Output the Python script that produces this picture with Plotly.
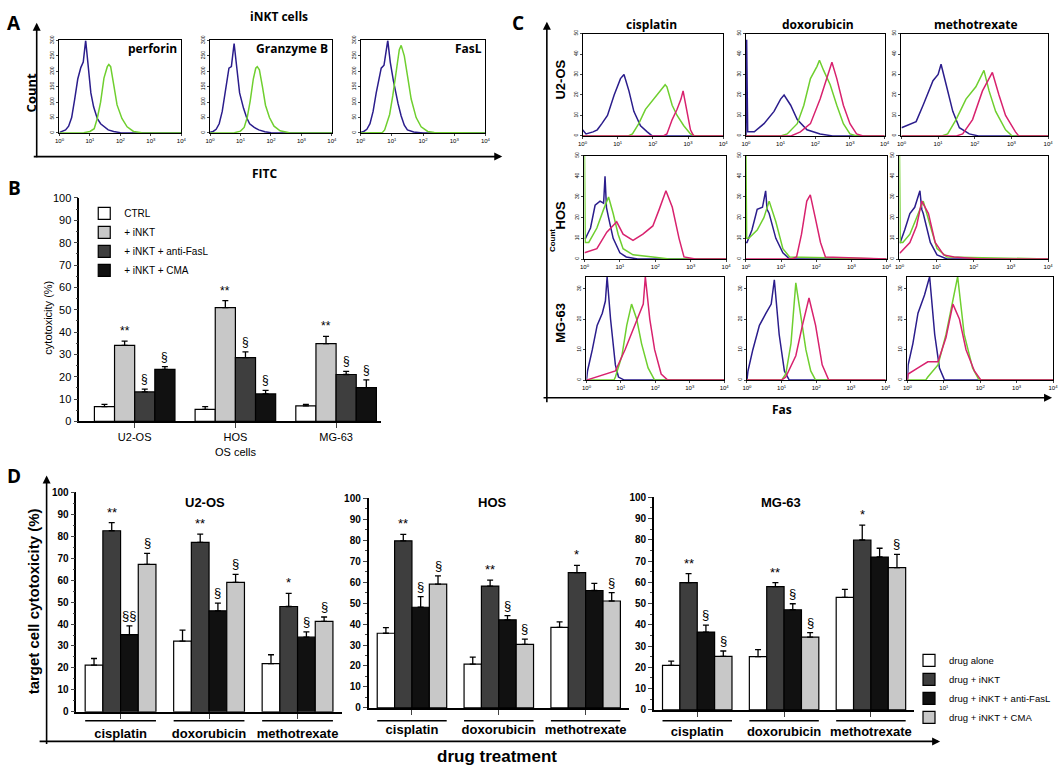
import plotly.graph_objects as go

W, H = 1061, 772

# ---------------- data ----------------
# A: iNKT cells, FITC intensity (log10) vs count. iso = blue control, stain = green
a_labels = ["perforin", "Granzyme B", "FasL"]
perforin_iso = ([0, 0.1, 0.2, 0.3, 0.4, 0.5, 0.6, 0.7, 0.78, 0.86, 0.95, 1.03, 1.12, 1.24, 1.35, 1.46, 1.6, 1.78, 2.0, 4],
                [2, 5, 10, 22, 50, 110, 175, 212, 230, 300, 200, 130, 85, 47, 30, 20, 10, 5, 1, 0])
perforin_stain = ([0, 0.8, 1.0, 1.14, 1.24, 1.35, 1.46, 1.57, 1.62, 1.68, 1.78, 1.89, 2.05, 2.22, 2.43, 2.7, 4],
                  [0, 1, 5, 14, 47, 100, 178, 215, 222, 215, 157, 91, 47, 20, 5, 1, 0])
granzyme_iso = ([0, 0.1, 0.2, 0.3, 0.4, 0.5, 0.62, 0.7, 0.79, 0.88, 0.97, 1.1, 1.2, 1.3, 1.45, 1.6, 1.8, 2.0, 4],
                [2, 5, 12, 30, 70, 140, 210, 215, 290, 210, 130, 80, 50, 30, 18, 10, 4, 1, 0])
granzyme_stain = ([0, 0.8, 1.0, 1.12, 1.22, 1.32, 1.42, 1.5, 1.55, 1.62, 1.72, 1.82, 1.95, 2.1, 2.3, 2.6, 4],
                  [0, 1, 6, 18, 50, 105, 175, 210, 215, 205, 150, 90, 50, 22, 7, 1, 0])
fasl_iso = ([0, 0.1, 0.2, 0.3, 0.4, 0.5, 0.66, 0.75, 0.87, 0.95, 1.05, 1.14, 1.2, 1.3, 1.4, 1.5, 1.7, 2.0, 4],
            [2, 5, 12, 30, 70, 130, 210, 220, 300, 230, 170, 122, 95, 55, 25, 10, 3, 0, 0])
fasl_stain = ([0, 0.7, 0.77, 0.93, 1.03, 1.14, 1.24, 1.3, 1.4, 1.51, 1.62, 1.78, 1.94, 2.15, 2.36, 4],
              [0, 2, 10, 60, 120, 200, 270, 284, 250, 180, 110, 50, 20, 5, 2, 0])

# B: cytotoxicity (%) of OS cells
b_cells = ["U2-OS", "HOS", "MG-63"]
b_names = ["CTRL", "+ iNKT", "+ iNKT + anti-FasL", "+ iNKT + CMA"]
b_ctrl = [6.6, 5.4, 7.0]
b_ctrl_err = [1.0, 1.2, 0.6]
b_inkt = [34.0, 50.9, 34.8]
b_inkt_err = [1.9, 3.2, 3.3]
b_fasl = [13.2, 28.6, 21.0]
b_fasl_err = [1.3, 2.5, 1.4]
b_cma = [23.3, 12.3, 15.1]
b_cma_err = [1.2, 1.6, 3.5]
b_marks = ["", "**", "§", "§"]

# C: Fas expression (log10 intensity vs count); iso = blue, untreated = green, drug = magenta
c_drugs = ["cisplatin", "doxorubicin", "methotrexate"]
c_cells = ["U2-OS", "HOS", "MG-63"]
c_ymax = [50, 50, 34]

u2os_cis_iso = ([0, 0.1, 0.3, 0.42, 0.55, 0.71, 0.9, 1.08, 1.18, 1.32, 1.46, 1.65, 1.84, 1.98, 4],
                [3, 1, 2, 3, 6, 10, 20, 28, 30, 22, 12, 5, 2, 0, 0])
u2os_cis_ctrl = ([0, 1.3, 1.42, 1.6, 1.79, 2.03, 2.22, 2.35, 2.4, 2.55, 2.69, 2.88, 3.07, 3.2, 4],
                 [0, 0, 1, 6, 13, 18, 22, 25, 24, 15, 10, 5, 1, 0, 0])
u2os_cis_drug = ([0, 2.3, 2.4, 2.55, 2.69, 2.8, 2.86, 2.97, 3.07, 3.16, 4],
                 [0, 0, 1, 8, 13, 18, 22, 12, 3, 0, 0])
u2os_dox_iso = ([0, 0.02, 0.05, 0.24, 0.52, 0.81, 1.0, 1.1, 1.29, 1.48, 1.76, 2.14, 2.5, 4],
                [0, 47, 2, 2, 6, 12, 18, 20, 15, 8, 3, 1, 0, 0])
u2os_dox_ctrl = ([0, 1.0, 1.19, 1.48, 1.67, 1.86, 2.05, 2.12, 2.24, 2.43, 2.62, 2.81, 3.0, 3.2, 4],
                 [0, 0, 1, 6, 15, 28, 34, 37, 32, 25, 15, 6, 1, 0, 0])
u2os_dox_drug = ([0, 1.3, 1.57, 1.86, 2.14, 2.33, 2.48, 2.62, 2.81, 3.0, 3.19, 3.38, 4],
                 [0, 0, 2, 6, 18, 28, 36, 28, 15, 6, 1, 0, 0])
u2os_mtx_iso = ([0, 0.14, 0.4, 0.59, 0.86, 1.0, 1.08, 1.22, 1.4, 1.58, 1.85, 2.1, 4],
                [4, 5, 7, 15, 27, 30, 35, 25, 12, 4, 1, 0, 0])
u2os_mtx_ctrl = ([0, 1.1, 1.26, 1.49, 1.76, 2.03, 2.25, 2.39, 2.57, 2.84, 3.02, 4],
                 [0, 0, 1, 8, 18, 24, 32, 22, 12, 3, 0, 0])
u2os_mtx_drug = ([0, 1.5, 1.67, 1.94, 2.21, 2.48, 2.66, 2.84, 3.11, 3.2, 4],
                 [0, 0, 1, 8, 22, 31, 20, 10, 2, 0, 0])

hos_cis_iso = ([0, 0.03, 0.17, 0.3, 0.44, 0.54, 0.58, 0.62, 0.68, 0.81, 1.0, 1.18, 1.5, 4],
               [10, 10, 15, 26, 28, 27, 40, 25, 20, 10, 3, 1, 0, 0])
hos_cis_ctrl = ([0, 0.02, 0.12, 0.35, 0.54, 0.68, 0.81, 0.95, 1.09, 1.37, 1.93, 2.39, 4],
                [50, 8, 8, 15, 24, 30, 22, 12, 5, 2, 1, 0, 0])
hos_cis_drug = ([0, 0.35, 0.63, 0.91, 1.09, 1.37, 1.65, 1.93, 2.11, 2.3, 2.48, 2.67, 2.81, 3.13, 4],
                [3, 5, 13, 18, 12, 9, 12, 16, 24, 33, 25, 10, 1, 0, 0])
hos_dox_iso = ([0, 0.03, 0.17, 0.32, 0.47, 0.56, 0.6, 0.66, 0.85, 1.05, 1.24, 4],
               [8, 8, 14, 24, 25, 33, 24, 22, 10, 3, 0, 0])
hos_dox_ctrl = ([0, 0.02, 0.08, 0.32, 0.51, 0.66, 0.85, 1.05, 1.24, 4],
                [50, 10, 10, 14, 20, 28, 18, 5, 1, 0])
hos_dox_drug = ([0, 1.3, 1.44, 1.58, 1.73, 1.83, 1.97, 2.12, 2.26, 4],
                [0, 0, 1, 12, 28, 31, 20, 8, 1, 0])
hos_mtx_iso = ([0, 0.02, 0.14, 0.28, 0.41, 0.55, 0.6, 0.64, 0.83, 1.01, 1.28, 4],
               [8, 8, 14, 22, 25, 33, 24, 22, 8, 2, 0, 0])
hos_mtx_ctrl = ([0, 0.02, 0.09, 0.28, 0.46, 0.64, 0.83, 1.01, 1.28, 4],
                [50, 8, 8, 12, 20, 28, 16, 5, 1, 0])
hos_mtx_drug = ([0, 0.02, 0.28, 0.46, 0.6, 0.78, 0.96, 1.19, 1.47, 2.2, 4],
                [3, 3, 8, 16, 28, 22, 8, 2, 1, 0, 0])

mg63_cis_iso = ([0, 0.03, 0.17, 0.31, 0.46, 0.55, 0.6, 0.7, 0.84, 0.93, 1.1, 4],
                [0, 3, 10, 18, 22, 26, 34, 20, 5, 1, 0, 0])
mg63_cis_ctrl = ([0, 0.8, 0.84, 1.03, 1.17, 1.31, 1.46, 1.6, 1.79, 1.98, 4],
                 [0, 0, 1, 8, 18, 25, 20, 12, 4, 0, 0])
mg63_cis_drug = ([0, 0.27, 0.84, 1.12, 1.41, 1.65, 1.71, 1.84, 1.98, 2.17, 2.36, 4],
                 [0, 1, 3, 10, 18, 25, 34, 20, 10, 2, 0, 0])
mg63_dox_iso = ([0, 0.03, 0.17, 0.36, 0.55, 0.7, 0.79, 0.93, 1.08, 1.22, 4],
                [0, 3, 10, 18, 22, 25, 33, 15, 3, 0, 0])
mg63_dox_ctrl = ([0, 1.0, 1.12, 1.27, 1.41, 1.55, 1.7, 1.84, 1.98, 4],
                 [0, 0, 2, 12, 32, 22, 10, 3, 0, 0])
mg63_dox_drug = ([0, 1.0, 1.12, 1.41, 1.6, 1.79, 1.98, 2.17, 2.36, 4],
                 [0, 0, 1, 8, 18, 27, 18, 5, 0, 0])
mg63_mtx_iso = ([0, 0.02, 0.15, 0.29, 0.47, 0.61, 0.75, 0.88, 1.02, 4],
                [0, 5, 12, 22, 28, 34, 15, 4, 0, 0])
mg63_mtx_ctrl = ([0, 0.5, 0.56, 0.84, 1.06, 1.25, 1.38, 1.56, 1.79, 1.97, 4],
                 [0, 0, 1, 5, 15, 26, 34, 15, 4, 0, 0])
mg63_mtx_drug = ([0, 0.02, 0.29, 0.56, 0.84, 1.06, 1.25, 1.43, 1.61, 1.84, 2.02, 4],
                 [0, 2, 4, 6, 6, 14, 25, 20, 10, 3, 0, 0])

# D: target cell cytotoxicity (%) per drug
d_drugs = ["cisplatin", "doxorubicin", "methotrexate"]
d_names = ["drug alone", "drug + iNKT", "drug + iNKT + anti-FasL", "drug + iNKT + CMA"]
u2os_alone = [21.3, 32.2, 22.0]
u2os_alone_err = [3.0, 5.0, 4.0]
u2os_inkt = [82.5, 77.2, 48.0]
u2os_inkt_err = [3.7, 3.8, 6.0]
u2os_fasl = [35.2, 46.0, 34.0]
u2os_fasl_err = [4.0, 3.5, 2.4]
u2os_cma = [67.2, 59.0, 41.2]
u2os_cma_err = [5.0, 3.6, 2.0]
u2os_marks = [["", "**", "§§", "§"], ["", "**", "§", "§"], ["", "*", "§", "§"]]

hos_alone = [35.6, 20.9, 38.4]
hos_alone_err = [2.7, 3.3, 2.6]
hos_inkt = [79.7, 58.1, 64.5]
hos_inkt_err = [3.1, 2.8, 3.5]
hos_fasl = [48.0, 42.0, 56.0]
hos_fasl_err = [5.1, 2.0, 3.4]
hos_cma = [59.0, 30.3, 51.0]
hos_cma_err = [4.0, 2.5, 4.0]
hos_marks = [["", "**", "§", "§"], ["", "**", "§", "§"], ["", "*", "", "§"]]

mg63_alone = [20.9, 25.0, 52.9]
mg63_alone_err = [2.0, 3.3, 3.8]
mg63_inkt = [59.8, 58.0, 79.9]
mg63_inkt_err = [4.3, 1.8, 7.0]
mg63_fasl = [36.6, 47.1, 71.9]
mg63_fasl_err = [3.3, 2.8, 4.1]
mg63_cma = [25.2, 34.2, 66.9]
mg63_cma_err = [2.5, 2.1, 6.2]
mg63_marks = [["", "**", "§", "§"], ["", "**", "§", "§"], ["", "*", "", "§"]]

# ---------------- helpers ----------------
ARIAL = "Liberation Sans, Arial, sans-serif"
OPEN = "Open Sans, sans-serif"
BLUE, GREEN, MAGENTA = "#2b1d8c", "#6fcf2f", "#d8226e"


def xdom(x0, x1):
    return [x0 / W, x1 / W]


def ydom(top, bottom):
    return [1 - bottom / H, 1 - top / H]


def px(x):
    return x / W


def py(y):
    return 1 - y / H


def ref(i):
    return ("x" if i == 1 else f"x{i}"), ("y" if i == 1 else f"y{i}")


def axkey(i):
    return ("xaxis" if i == 1 else f"xaxis{i}"), ("yaxis" if i == 1 else f"yaxis{i}")


fig = go.Figure()
layout = {}
annotations = []
shapes = []

log_ticks = dict(tickvals=[0, 1, 2, 3, 4],
                 ticktext=["10<sup>0</sup>", "10<sup>1</sup>", "10<sup>2</sup>", "10<sup>3</sup>", "10<sup>4</sup>"])


def text(t, x, y, size, family=OPEN, angle=0):
    annotations.append(dict(text=t, x=px(x), y=py(y), xref="paper", yref="paper",
                            xanchor="center", yanchor="middle",
                            showarrow=False, textangle=angle,
                            font=dict(family=family, size=size, color="black")))


def hist_axes(i, xd, yd, ymax, dtick, box=True):
    xk, yk = axkey(i)
    xr, yr = ref(i)
    layout[xk] = dict(domain=xd, anchor=yr, range=[0, 4], **log_ticks,
                      tickfont=dict(size=6, family=ARIAL), ticks="outside", ticklen=2,
                      showline=True, linecolor="black", linewidth=1, mirror=box,
                      showgrid=False, zeroline=False)
    layout[yk] = dict(domain=yd, anchor=xr, range=[0, ymax], dtick=dtick, tickangle=-90,
                      tickfont=dict(size=5, family=ARIAL), ticks="outside", ticklen=2,
                      showline=True, linecolor="black", linewidth=1, mirror=box,
                      showgrid=False, zeroline=False)


def add_curve(i, curve, color):
    xr, yr = ref(i)
    fig.add_trace(go.Scatter(x=curve[0], y=curve[1], mode="lines", xaxis=xr, yaxis=yr,
                             line=dict(color=color, width=1.5), showlegend=False,
                             hoverinfo="skip"))


# ---------------- panel A ----------------
a_curves = [(perforin_iso, perforin_stain), (granzyme_iso, granzyme_stain), (fasl_iso, fasl_stain)]
a_x = [(55, 178), (207, 330), (359, 485)]
a_label_x = [149, 290, 468]
for k, (iso, stain) in enumerate(a_curves):
    i = k + 1
    hist_axes(i, xdom(*a_x[k]), ydom(35, 129), 300, 50)
    add_curve(i, iso, BLUE)
    add_curve(i, stain, GREEN)
    text(f"<b>{a_labels[k]}</b>", a_label_x[k], 43, 12)

# ---------------- panel C ----------------
c_curves = [
    [(u2os_cis_iso, u2os_cis_ctrl, u2os_cis_drug), (u2os_dox_iso, u2os_dox_ctrl, u2os_dox_drug),
     (u2os_mtx_iso, u2os_mtx_ctrl, u2os_mtx_drug)],
    [(hos_cis_iso, hos_cis_ctrl, hos_cis_drug), (hos_dox_iso, hos_dox_ctrl, hos_dox_drug),
     (hos_mtx_iso, hos_mtx_ctrl, hos_mtx_drug)],
    [(mg63_cis_iso, mg63_cis_ctrl, mg63_cis_drug), (mg63_dox_iso, mg63_dox_ctrl, mg63_dox_drug),
     (mg63_mtx_iso, mg63_mtx_ctrl, mg63_mtx_drug)],
]
c_x = [[(583, 725), (748, 888), (905, 1053)],
       [(585, 728), (748, 890), (903, 1053)],
       [(587, 726), (749, 889), (911, 1058)]]
c_y = [(28, 132), (152, 257), (275, 380)]
c_row_label_y = [75, 212, 322]
c_col_title_x = [653, 821, 980]
for r in range(3):
    for c in range(3):
        i = 4 + r * 3 + c
        hist_axes(i, xdom(*c_x[r][c]), ydom(*c_y[r]), c_ymax[r], 10)
        iso, ctrl, drug = c_curves[r][c]
        add_curve(i, iso, BLUE)
        add_curve(i, ctrl, GREEN)
        add_curve(i, drug, MAGENTA)
    text(f"<b>{c_cells[r]}</b>", 561, c_row_label_y[r], 13, family=ARIAL, angle=-90)
for c in range(3):
    text(f"<b>{c_drugs[c]}</b>", c_col_title_x[c], 19, 12)


# ---------------- bar panels ----------------
def bar_axes(i, xd, yd, x_range, tickfont, tick_text):
    xk, yk = axkey(i)
    xr, yr = ref(i)
    layout[xk] = dict(domain=xd, anchor=yr, range=x_range, tickvals=[0, 1, 2], ticktext=tick_text,
                      ticks="outside", ticklen=5, tickwidth=1.2, tickfont=tickfont,
                      showline=True, linecolor="black", linewidth=1.5,
                      showgrid=False, zeroline=False)
    layout[yk] = dict(domain=yd, anchor=xr, range=[0, 100], dtick=10, ticks="outside",
                      ticklen=4, tickwidth=1.2, tickfont=dict(family=ARIAL, size=10, color="black",
                                                              weight="bold"),
                      minor=dict(dtick=5, ticks="outside", ticklen=2, tickwidth=1),
                      showline=True, linecolor="black", linewidth=1.5,
                      showgrid=False, zeroline=False)


offsets = [-0.3, -0.1, 0.1, 0.3]

# panel B
b_vals = [b_ctrl, b_inkt, b_fasl, b_cma]
b_errs = [b_ctrl_err, b_inkt_err, b_fasl_err, b_cma_err]
b_colors = ["white", "#c8c8c8", "#3e3e3e", "#111111"]
bar_axes(13, xdom(75, 380), ydom(195, 422), [-0.55, 2.45],
         dict(family=ARIAL, size=11, color="black"), b_cells)
layout["yaxis13"]["tickfont"] = dict(family=ARIAL, size=11, color="black")
for k in range(4):
    fig.add_trace(go.Bar(x=[0, 1, 2], y=b_vals[k], name=b_names[k], xaxis="x13", yaxis="y13",
                         marker=dict(color=b_colors[k], line=dict(color="black", width=1.2)),
                         error_y=dict(type="data", array=b_errs[k], arrayminus=[0, 0, 0],
                                      symmetric=False, color="black", thickness=1.3, width=3),
                         legend="legend"))
    for g in range(3):
        if b_marks[k]:
            annotations.append(dict(text=b_marks[k], x=g + offsets[k], y=b_vals[k][g] + b_errs[k][g],
                                    xref="x13", yref="y13", showarrow=False, yanchor="bottom",
                                    xanchor="center", yshift=1,
                                    font=dict(family=ARIAL, size=12, color="black")))

# panel D
d_sets = [
    ("U2-OS", [u2os_alone, u2os_inkt, u2os_fasl, u2os_cma],
     [u2os_alone_err, u2os_inkt_err, u2os_fasl_err, u2os_cma_err], u2os_marks),
    ("HOS", [hos_alone, hos_inkt, hos_fasl, hos_cma],
     [hos_alone_err, hos_inkt_err, hos_fasl_err, hos_cma_err], hos_marks),
    ("MG-63", [mg63_alone, mg63_inkt, mg63_fasl, mg63_cma],
     [mg63_alone_err, mg63_inkt_err, mg63_fasl_err, mg63_cma_err], mg63_marks),
]
d_colors = ["white", "#3e3e3e", "#111111", "#c8c8c8"]
d_x = [(72, 340), (367, 630), (655, 918)]
d_y = [(494, 717), (500, 713), (499, 715)]
d_title_x = [202, 492, 783]
for s, (cell, vals, errs, marks) in enumerate(d_sets):
    i = 14 + s
    xr, yr = ref(i)
    bar_axes(i, xdom(*d_x[s]), ydom(*d_y[s]), [-0.5, 2.5],
             dict(family=ARIAL, size=13, color="black", weight="bold"), d_drugs)
    layout[axkey(i)[0]]["ticklabelstandoff"] = 4
    for k in range(4):
        fig.add_trace(go.Bar(x=[0, 1, 2], y=vals[k], name=d_names[k], xaxis=xr, yaxis=yr,
                             marker=dict(color=d_colors[k], line=dict(color="black", width=1.2)),
                             error_y=dict(type="data", array=errs[k], arrayminus=[0, 0, 0],
                                          symmetric=False, color="black", thickness=1.3, width=3),
                             legend="legend2", showlegend=(s == 0)))
        for g in range(3):
            if marks[g][k]:
                annotations.append(dict(text=marks[g][k], x=g + offsets[k], y=vals[k][g] + errs[k][g],
                                        xref=xr, yref=yr, showarrow=False, yanchor="bottom",
                                        xanchor="center", yshift=1,
                                        font=dict(family=ARIAL, size=13, color="black")))
    for g in range(3):
        shapes.append(dict(type="line", xref=xr, yref="paper", x0=g - 0.4, x1=g + 0.4,
                           y0=py(726), y1=py(726), line=dict(color="black", width=1.5)))
    text(f"<b>{cell}</b>", d_title_x[s], 504, 13, family=ARIAL)


# ---------------- frame text and arrows ----------------
def arrow(x_head, y_head, x_tail, y_tail):
    annotations.append(dict(text="", x=px(x_head), y=py(y_head), xref="paper", yref="paper",
                            ax=x_tail - x_head, ay=y_tail - y_head, showarrow=True,
                            arrowhead=2, arrowsize=1, arrowwidth=1.6, arrowcolor="black"))


text("<b>A</b>", 9, 17, 19)
text("<b>B</b>", 10, 185, 19)
text("<b>C</b>", 518, 17, 19)
text("<b>D</b>", 9, 477, 19)
text("<b>iNKT cells</b>", 277, 11, 12)
text("<b>Count</b>", 26, 88, 13, angle=-90)
text("<b>FITC</b>", 262, 170, 12)
text("<b>Count</b>", 553, 238, 8, family=ARIAL, angle=-90)
text("<b>Fas</b>", 784, 410, 12)
text("cytotoxicity (%)", 43, 317, 11, family=ARIAL, angle=-90)
text("OS cells", 233, 453, 11, family=ARIAL)
text("<b>target cell cytotoxicity (%)</b>", 29, 605, 15, family=ARIAL, angle=-90)
text("<b>drug treatment</b>", 497, 762, 17, family=ARIAL)

arrow(32, 17, 32, 153)
arrow(502, 153, 32, 153)
arrow(547, 16, 547, 398)
arrow(1057, 398, 547, 398)
arrow(42, 477, 42, 747)
arrow(944, 747, 42, 747)

layout.update(
    width=W, height=H,
    margin=dict(l=0, r=0, t=0, b=0),
    paper_bgcolor="white", plot_bgcolor="white",
    barmode="group", bargap=0.2, bargroupgap=0,
    font=dict(family=ARIAL, color="black"),
    annotations=annotations, shapes=shapes,
    legend=dict(x=px(80), y=py(196), xanchor="left", yanchor="top", bgcolor="rgba(0,0,0,0)",
                font=dict(family=ARIAL, size=10), tracegroupgap=0, itemwidth=30),
    legend2=dict(x=1.0, y=py(650), xanchor="right", yanchor="top", bgcolor="rgba(0,0,0,0)",
                 font=dict(family=ARIAL, size=9.5), tracegroupgap=0, itemwidth=30),
)
fig.update_layout(**layout)

# the page body has a default 8px margin; drop it so the figure sits at the window corner
fig.write_html("out.html", config={"displayModeBar": False},
               post_script="document.body.style.margin='0';document.body.style.overflow='hidden';")
